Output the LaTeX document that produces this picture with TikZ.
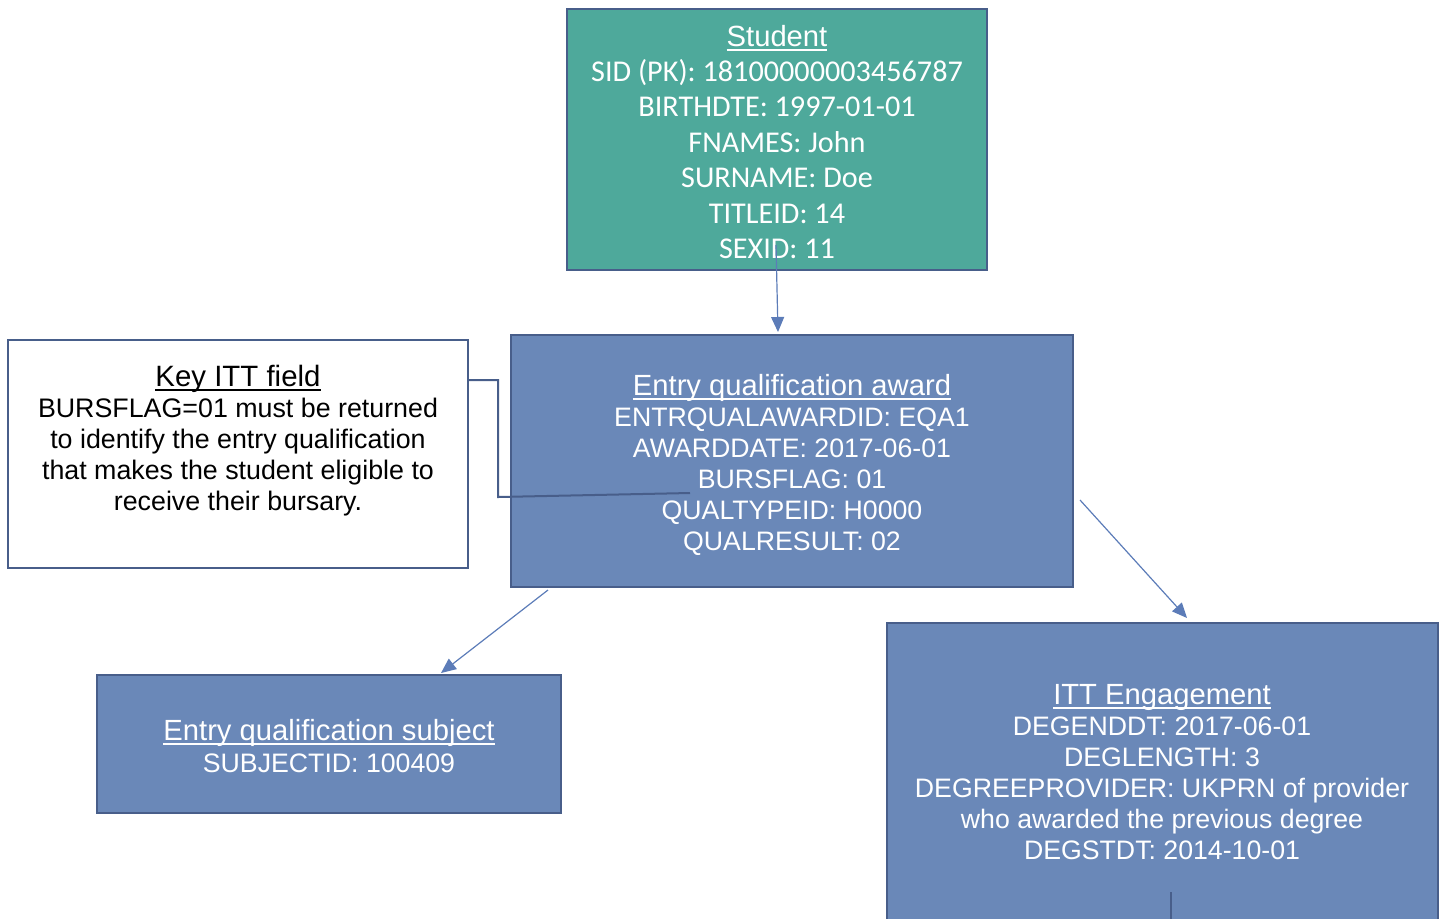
\documentclass[tikz,border=0pt]{standalone}
\usepackage{fontspec}
\setmainfont{Liberation Sans}
\newfontfamily\calib{Carlito}
\usetikzlibrary{arrows.meta}
\definecolor{teal1}{RGB}{78,169,155}
\definecolor{blue1}{RGB}{106,136,184}
\definecolor{edge1}{RGB}{72,94,138}
\definecolor{arr1}{RGB}{92,124,184}
\newcommand\myul[1]{\leavevmode\setbox0\hbox{#1}\rlap{\vrule width\wd0 height -1.3pt depth 2.1pt}\box0}
\newcommand\cfld{\calib\fontsize{15.1pt}{17.7pt}\selectfont}
\begin{document}
\begin{tikzpicture}[x=0.5pt,y=-0.5pt,
  box/.style={draw=edge1,line width=1.25pt,rectangle,inner sep=0pt,outer sep=0pt},
  txt/.style={align=center,text=white,inner sep=0pt},
  ttl/.style={font=\fontsize{14.6pt}{16pt}\selectfont},
  arrow1/.style={draw=arr1,line width=0.6pt,-{Triangle[length=7.5pt,width=6.5pt]}},
  link1/.style={draw=edge1,line width=1pt}]
\useasboundingbox (0,0) rectangle (1446,918);
% boxes
\node[box,fill=teal1,minimum width=210pt,minimum height=130.5pt] (student) at (777,139.5) {};
\node[box,fill=blue1,minimum width=281pt,minimum height=126pt] (eqa) at (792,461) {};
\node[box,fill=white,minimum width=230pt,minimum height=114pt] (key) at (238,454) {};
\node[box,fill=blue1,minimum width=232pt,minimum height=69pt] (eqs) at (329,744) {};
\node[box,fill=blue1,minimum width=275.5pt,minimum height=153.5pt] (itt) at (1162.5,776.5) {};
% texts
\node[txt,font=\fontsize{14.6pt}{16pt}\selectfont] (studentTitle) at (777,38) {\myul{Student}};
\node[txt,font=\cfld] (studentT) at (777,159) {SID (PK): 18100000003456787\\
BIRTHDTE: 1997-01-01\\
FNAMES: John\\
SURNAME: Doe\\
TITLEID: 14\\
SEXID: 11};
\node[txt,font=\fontsize{13.35pt}{15.5pt}\selectfont] (eqaT) at (792,465) {{\fontsize{14.6pt}{16pt}\selectfont\myul{Entry qualification award}}\\
ENTRQUALAWARDID: EQA1\\AWARDDATE: 2017-06-01\\BURSFLAG: 01\\QUALTYPEID: H0000\\QUALRESULT: 02};
\node[txt,text=black,font=\fontsize{13.4pt}{15.5pt}\selectfont] (keyT) at (238,441) {{\fontsize{14.7pt}{16pt}\selectfont\myul{Key ITT field}}\\
BURSFLAG=01 must be returned\\to identify the entry qualification\\that makes the student eligible to\\receive their bursary.};
\node[txt,font=\fontsize{13.35pt}{16pt}\selectfont] (eqsT) at (329,746) {{\fontsize{14.6pt}{16pt}\selectfont\myul{Entry qualification subject}}\\SUBJECTID: 100409};
\node[txt,font=\fontsize{13.35pt}{15.5pt}\selectfont] (ittT) at (1162,772) {{\fontsize{14.6pt}{16pt}\selectfont\myul{ITT Engagement}}\\
DEGENDDT: 2017-06-01\\DEGLENGTH: 3\\DEGREEPROVIDER: UKPRN of provider\\who awarded the previous degree\\DEGSTDT: 2014-10-01};
% connector coordinates
\coordinate (c1) at (776,245);
\coordinate (c1e) at (778,332);
\coordinate (c2) at (548,590);
\coordinate (c2e) at (441,673);
\coordinate (c3) at (1080,500);
\coordinate (c3e) at (1187,618);
\coordinate (k1) at (468,380);
\coordinate (k2) at (690,493);
\coordinate (i1) at (1171,892);
\coordinate (i2) at (1171,920);
% connectors
\draw[arrow1] (c1) -- (c1e);
\draw[arrow1] (c2) -- (c2e);
\draw[arrow1] (c3) -- (c3e);
\draw[link1] (k1) -- (498,380) -- (498,497) -- (k2);
\draw[link1] (i1) -- (i2);
\end{tikzpicture}
\end{document}
